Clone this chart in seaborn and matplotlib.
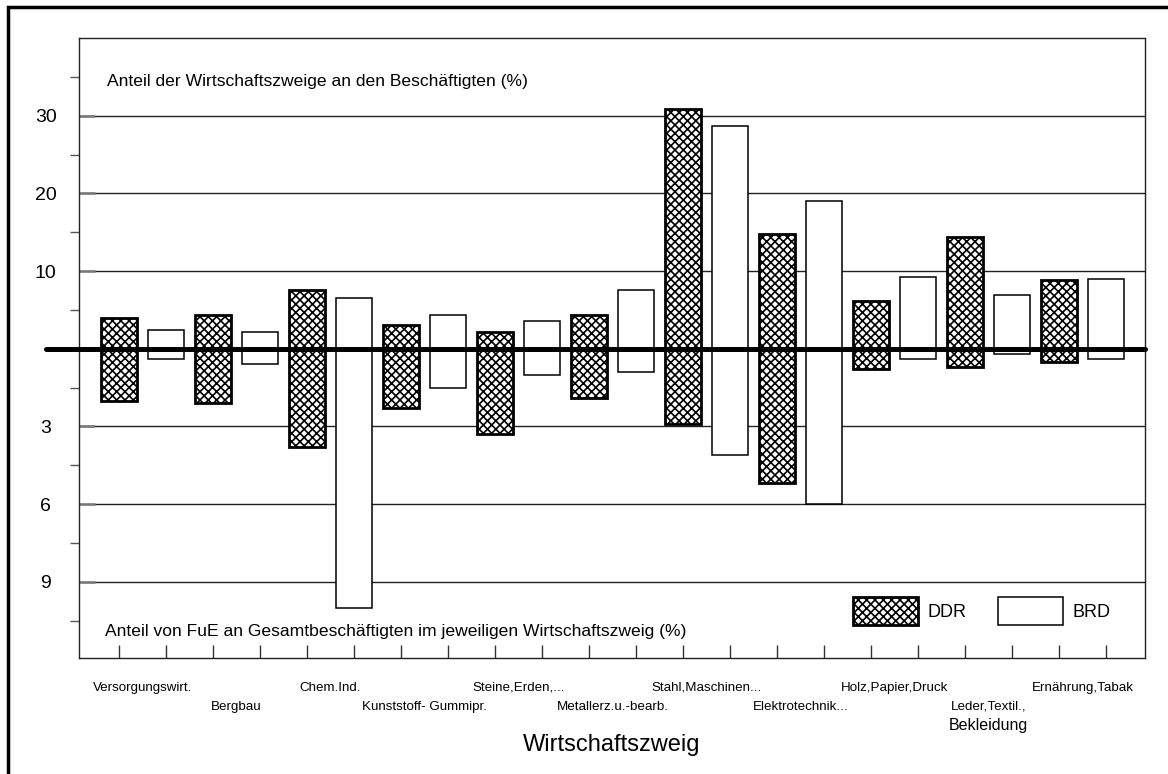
import pandas as pd
import matplotlib
matplotlib.use("Agg")
import matplotlib.pyplot as plt
from matplotlib.patches import Rectangle
import seaborn as sns

# Werte
wirtschaftszweige = ['Versorgungswirt.', 'Bergbau', 'Chem.Ind.', 'Kunststoff- Gummipr.',
                     'Steine,Erden,...', 'Metallerz.u.-bearb.', 'Stahl,Maschinen...',
                     'Elektrotechnik...', 'Holz,Papier,Druck', 'Leder,Textil.,', 'Ernährung,Tabak']
zusatz_zeile = {'Leder,Textil.,': 'Bekleidung'}
laender = ['DDR', 'BRD']

# Anteil der Wirtschaftszweige an den Beschäftigten (%)
ddr_beschaeftigte = [4.0, 4.4, 7.6, 3.0, 2.1, 4.4, 30.8, 14.8, 6.1, 14.4, 8.8]
brd_beschaeftigte = [2.4, 2.2, 6.5, 4.4, 3.6, 7.6, 28.7, 19.0, 9.3, 6.9, 9.0]
# Anteil von FuE an Gesamtbeschäftigten im jeweiligen Wirtschaftszweig (%)
ddr_fue = [2.0, 2.1, 3.8, 2.3, 3.3, 1.9, 2.9, 5.2, 0.8, 0.7, 0.5]
brd_fue = [0.4, 0.6, 10.0, 1.5, 1.0, 0.9, 4.1, 6.0, 0.4, 0.2, 0.4]

ticks_oben = [10, 20, 30]
ticks_unten = [3, 6, 9]
minor_oben = [5, 15, 25, 35]
minor_unten = [1.5, 4.5, 7.5, 10.5]

# 10 % oben entsprechen 3 % unten
SKALA_OBEN = 10
SKALA_UNTEN = 3

# Tabelle fuer seaborn
zeilen = []
for i, zweig in enumerate(wirtschaftszweige):
    werte = {'DDR': (ddr_beschaeftigte[i], ddr_fue[i]), 'BRD': (brd_beschaeftigte[i], brd_fue[i])}
    for j, land in enumerate(laender):
        zeilen.append({'pos': 2 * i + j, 'land': land, 'zweig': zweig,
                       'beschaeftigte': werte[land][0], 'fue': werte[land][1]})
df = pd.DataFrame(zeilen)
df['oben'] = df['beschaeftigte'] / SKALA_OBEN
df['unten'] = -df['fue'] / SKALA_UNTEN

sns.set_style('white')
plt.rcParams['font.family'] = ['Liberation Sans', 'DejaVu Sans']
plt.rcParams['hatch.linewidth'] = 1.2
plt.rcParams['text.color'] = 'black'
plt.rcParams['axes.labelcolor'] = 'black'
plt.rcParams['xtick.color'] = 'black'
plt.rcParams['ytick.color'] = 'black'

W, H = 1168, 774
fig = plt.figure(figsize=(W / 100, H / 100), dpi=100)
ax = fig.add_axes([79 / W, 1 - 658 / H, (1145 - 79) / W, (658 - 38) / H])

for spalte in ['oben', 'unten']:
    sns.barplot(data=df, x='pos', y=spalte, native_scale=True, width=0.75, color='white',
                saturation=1, edgecolor='black', errorbar=None, ax=ax, zorder=2)

handles = {}
for patch in ax.patches:
    pos = int(round(patch.get_x() + patch.get_width() / 2))
    patch.set_facecolor('white')
    patch.set_edgecolor('black')
    if pos % 2 == 0:
        patch.set_hatch('xxxx')
        patch.set_linewidth(2.0)
        handles.setdefault('DDR', patch)
    else:
        patch.set_linewidth(1.1)
        handles.setdefault('BRD', patch)

# Gitterlinien und Nulllinie
for t in ticks_oben:
    ax.axhline(t / SKALA_OBEN, color='#222222', lw=1, zorder=0.5)
for t in ticks_unten:
    ax.axhline(-t / SKALA_UNTEN, color='#222222', lw=1, zorder=0.5)
ax.axhline(0, xmin=(46 - 79) / (1145 - 79), xmax=1.0, color='black', lw=3.6,
           clip_on=False, zorder=4)

ax.set_xlim(-0.851, 21.83)
ax.set_ylim(-3.98, 4.0)

# y-Achse: oben Beschaeftigte, unten FuE
yt = [-t / SKALA_UNTEN for t in reversed(ticks_unten)] + [t / SKALA_OBEN for t in ticks_oben]
yl = [str(t) for t in reversed(ticks_unten)] + [str(t) for t in ticks_oben]
ax.set_yticks(yt, yl)
ax.set_yticks([-t / SKALA_UNTEN for t in minor_unten] + [t / SKALA_OBEN for t in minor_oben],
              minor=True)
ax.tick_params(axis='y', which='both', left=True)
ax.tick_params(axis='y', which='major', direction='in', length=11.5, width=1.8,
               color='#777777', pad=24, labelsize=14, zorder=3)
ax.tick_params(axis='y', which='minor', direction='out', length=6.5, width=1, color='#555555')
for lab in ax.get_yticklabels():
    lab.set_ha('center')

ax.set_xticks(df['pos'])
ax.tick_params(axis='x', which='major', bottom=True, direction='in', length=9.5, width=1,
               color='#333333', labelbottom=False)
ax.set_ylabel('')

for s in ax.spines.values():
    s.set_color('#222222')
    s.set_linewidth(1)

# Kategorien in zwei Zeilen unter der Achse
trans = ax.get_xaxis_transform()
for i, zweig in enumerate(wirtschaftszweige):
    y = -0.048 if i % 2 == 0 else -0.079
    ax.text(2 * i + 0.5, y, zweig, transform=trans, ha='center', va='center', fontsize=9.6)
    if zweig in zusatz_zeile:
        ax.text(2 * i + 0.5, y - 0.03, zusatz_zeile[zweig], transform=trans, ha='center',
                va='center', fontsize=11.5)

ax.set_xlabel('Wirtschaftszweig', fontsize=17)
ax.xaxis.set_label_coords(0.5, -0.140)
ax.xaxis.label.set_va('center')

ax.text(0.0263, 0.9306, 'Anteil der Wirtschaftszweige an den Beschäftigten (%)',
        transform=ax.transAxes, ha='left', va='center', fontsize=12.6)
ax.text(0.0245, 0.0435, 'Anteil von FuE an Gesamtbeschäftigten im jeweiligen Wirtschaftszweig (%)',
        transform=ax.transAxes, ha='left', va='center', fontsize=12.6)

ax.legend([handles[l] for l in laender], laender, loc='center left',
          bbox_to_anchor=(853 / W, 1 - 611 / H), bbox_transform=fig.transFigure,
          frameon=False, ncol=2, borderpad=0, borderaxespad=0, handlelength=3.6,
          handleheight=2.0, handletextpad=0.55, columnspacing=1.7, fontsize=13)

# Rahmen um die Grafik
fig.add_artist(Rectangle((8 / W, -0.2), 1.5, 1 - 7 / H + 0.2, transform=fig.transFigure,
                         fill=False, lw=2.5, edgecolor='black'))

fig.savefig('out.png', dpi=100)
